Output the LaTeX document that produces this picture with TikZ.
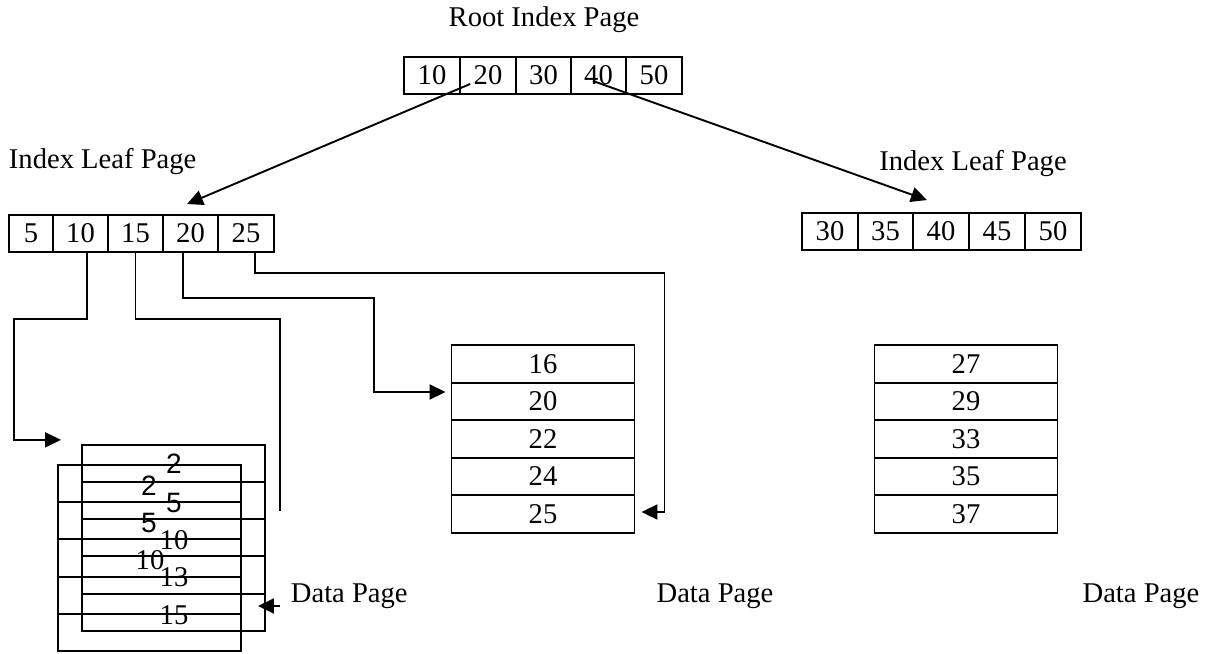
\documentclass[tikz,border=0pt]{standalone}
\usepackage{fontspec}
\setmainfont{Liberation Serif}
\newfontfamily\sansdig{Liberation Sans}
\usetikzlibrary{arrows.meta,calc}
\begin{document}
\begin{tikzpicture}[x=0.5pt,y=-0.5pt,
  line width=0.95pt,
  lbl/.style={font=\fontsize{14.3}{17}\selectfont, inner sep=0pt},
  cell/.style={draw, rectangle, inner sep=0pt, minimum height=18.5pt, minimum width=27.8pt, font=\fontsize{14.3}{17}\selectfont},
  rowbox/.style={draw, rectangle, inner sep=0pt, minimum height=18.7pt, minimum width=91.5pt, font=\fontsize{14.3}{17}\selectfont},
  num/.style={font=\fontsize{14.3}{17}\selectfont, inner sep=0pt},
  snum/.style={font=\sansdig\fontsize{14}{17}\selectfont, inner sep=0pt},
  arr/.style={-{Triangle[length=8pt,width=7.5pt]}},
  ]
\useasboundingbox (0,0) rectangle (1217,654);

% Root index page
\node[lbl] (rootlbl) at (544,20) {Root Index Page};
\node[cell] (r1) at (432,75.5) {10};
\node[cell] (r2) at (488,75.5) {20};
\node[cell] (r3) at (543.5,75.5) {30};
\node[cell] (r4) at (598.5,75.5) {40};
\node[cell] (r5) at (654,75.5) {50};

% Left index leaf page
\node[lbl, anchor=west] (llbl) at (8,162) {Index Leaf Page};
\node[cell, minimum width=22pt] (l1) at (31,233.5) {5};
\node[cell] (l2) at (80.5,233.5) {10};
\node[cell] (l3) at (135.5,233.5) {15};
\node[cell] (l4) at (190.5,233.5) {20};
\node[cell] (l5) at (246,233.5) {25};

% Right index leaf page
\node[lbl] (rlbl) at (973,164) {Index Leaf Page};
\node[cell] (rl1) at (830,231.5) {30};
\node[cell] (rl2) at (885.5,231.5) {35};
\node[cell] (rl3) at (941,231.5) {40};
\node[cell] (rl4) at (997,231.5) {45};
\node[cell] (rl5) at (1053,231.5) {50};

% Back data page (left stack)
\node[rowbox] (bk1) at (173.5,463.5) {};
\node[rowbox] (bk2) at (173.5,500.5) {};
\node[rowbox] (bk3) at (173.5,537.5) {};
\node[rowbox] (bk4) at (173.5,575) {};
\node[rowbox] (bk5) at (173.5,612.5) {};
% Front data page (left stack)
\node[rowbox] (fr1) at (149.5,483.5) {};
\node[rowbox] (fr2) at (149.5,520.5) {};
\node[rowbox] (fr3) at (149.5,558) {};
\node[rowbox] (fr4) at (149.5,595.5) {};
\node[rowbox] (fr5) at (149.5,632.5) {};
% texts of the stack
\node[snum] (t2b) at (174,464) {2};
\node[snum] (t5b) at (174,503) {5};
\node[num] (t10b) at (174,540) {10};
\node[num] (t13b) at (174,577) {13};
\node[num] (t15b) at (174,615) {15};
\node[snum] (t2f) at (149,486) {2};
\node[snum] (t5f) at (149,523) {5};
\node[num] (t10f) at (150,560) {10};

% Middle data page
\node[rowbox] (m1) at (543,364) {16};
\node[rowbox] (m2) at (543,401.5) {20};
\node[rowbox] (m3) at (543,439) {22};
\node[rowbox] (m4) at (543,476.5) {24};
\node[rowbox] (m5) at (543,514) {25};

% Right data page
\node[rowbox] (n1) at (966,364) {27};
\node[rowbox] (n2) at (966,401.5) {29};
\node[rowbox] (n3) at (966,439) {33};
\node[rowbox] (n4) at (966,476.5) {35};
\node[rowbox] (n5) at (966,514) {37};

% Data page labels
\node[lbl, anchor=west] (dp1) at (290,596) {Data Page};
\node[lbl] (dp2) at (715,596) {Data Page};
\node[lbl] (dp3) at (1141,596) {Data Page};

% Root arrows
\draw[arr] ($(r2.south west)+(11,-11)$) -- ($(l4.north)+(-3.5,-10)$);
\draw[arr] ($(r4.center)+(-5.5,5.5)$) -- ($(rl3.north)+(-14,-12)$);

% Leaf connectors
\draw[arr] ($(l2.south)+(6.5,0)$) -- ++(0,66) -| ($(bk1.north west)+(-67,-4)$) -- ($(bk1.north west)+(-20,-4)$);
\draw (l3.south) -- ++(0,66) -| ($(bk2.north east)+(14,30)$);
\draw[arr] ($(l4.south)+(-7.5,0)$) -- ++(0,45) -| ($(m2.west)+(-77,-9.5)$) -- ($(m2.west)+(-5,-9.5)$);
\draw[arr] ($(l5.south)+(9,0)$) -- ++(0,20) -| ($(m5.east)+(29,-2)$) -- ($(m5.east)+(6,-2)$);

% Data page arrow
\draw[arr] ($(bk5.east)+(14,-6.5)$) -- ($(bk5.east)+(-8,-6.5)$);
\end{tikzpicture}
\end{document}
